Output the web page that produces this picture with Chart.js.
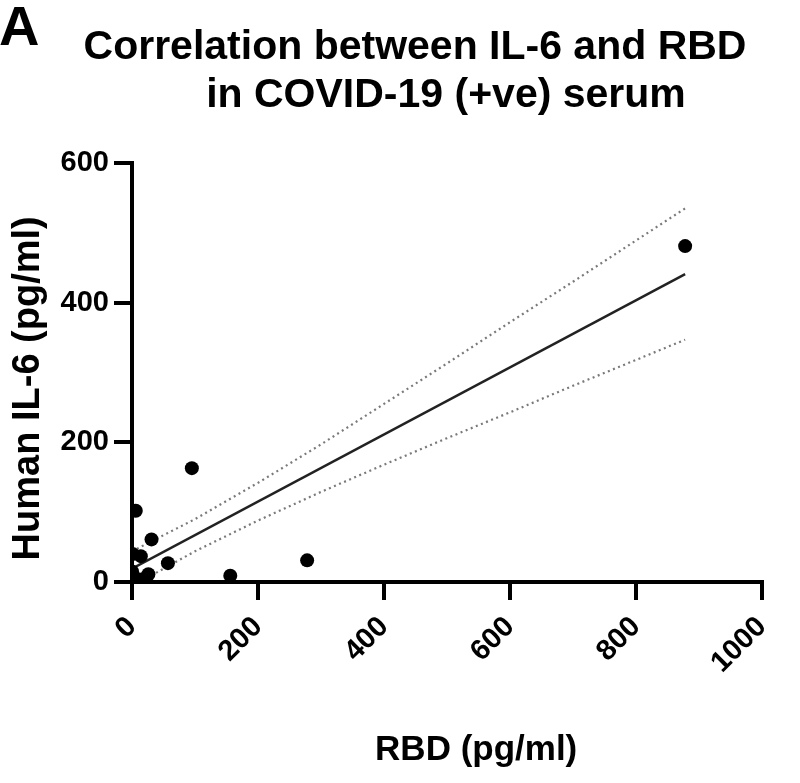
<!DOCTYPE html>
<html>
<head>
<meta charset="utf-8">
<script src="https://cdn.jsdelivr.net/npm/chart.js@4.4.1/dist/chart.umd.min.js"></script>
<style>
  html, body { margin: 0; padding: 0; background: #fff; }
  #wrap { width: 800px; height: 783px; }
</style>
</head>
<body>
<div id="wrap"><canvas id="chart" width="800" height="783"></canvas></div>
<script>
// values
const rbd  = [878, 95, 278, 156, 6, 31, 57, 1, 14, 26, 0, 3, 1, 8, 14, 17];
const il6  = [481, 163, 31, 9, 102, 61, 27, 40, 37, 11, 15, 8, 2, 1, 0, 4];

const fitX = [0, 878];
const fitY = [19, 441];

const bandX     = [0, 100, 200, 300, 400, 500, 600, 700, 800, 878];
const bandUpper = [44, 90, 142, 197, 255, 313, 372, 430, 489, 535];
const bandLower = [-6, 44, 88, 129, 168, 206, 243, 281, 318, 347];

const xTicks = [0, 200, 400, 600, 800, 1000];
const yTicks = [0, 200, 400, 600];

const FONT = "'Liberation Sans', Arial, sans-serif";

const pts = (xs, ys) => xs.map((x, i) => ({ x: x, y: ys[i] }));

// panel letter and the two-line heading
const heading = {
    id: 'heading',
    afterDraw(chart) {
        const ctx = chart.ctx;
        ctx.save();
        ctx.fillStyle = '#000';
        ctx.textBaseline = 'alphabetic';
        ctx.font = `bold 56px ${FONT}`;
        ctx.textAlign = 'left';
        ctx.fillText('A', -1, 45);
        ctx.font = `bold 41px ${FONT}`;
        ctx.textAlign = 'center';
        ctx.fillText('Correlation between IL-6 and RBD', 415, 59);
        ctx.fillText('in COVID-19 (+ve) serum', 446, 107);
        ctx.restore();
    }
};

const lineSet = (xs, ys, dashed) => ({
    data: pts(xs, ys),
    showLine: true,
    pointRadius: 0,
    borderColor: dashed ? '#7a7a7a' : '#222',
    borderWidth: dashed ? 2.2 : 2.5,
    borderDash: dashed ? [2, 3.5] : [],
    fill: false
});

new Chart(document.getElementById('chart').getContext('2d'), {
    type: 'scatter',
    data: {
        datasets: [
            {
                data: pts(rbd, il6),
                pointRadius: 7,
                pointBackgroundColor: '#000',
                pointBorderWidth: 0,
                showLine: false
            },
            lineSet(fitX, fitY, false),
            lineSet(bandX, bandUpper, true),
            lineSet(bandX, bandLower, true)
        ]
    },
    options: {
        responsive: false,
        animation: false,
        events: [],
        layout: { padding: { left: 0, right: 38, top: 163, bottom: 0 } },
        plugins: { legend: { display: false }, tooltip: { enabled: false } },
        scales: {
            x: {
                type: 'linear',
                min: 0,
                max: 1000,
                afterFit: (s) => { s.height = 201; },
                afterBuildTicks: (s) => { s.ticks = xTicks.map(v => ({ value: v })); },
                border: { color: '#000', width: 4 },
                grid: { drawOnChartArea: false, color: '#000', lineWidth: 4, tickLength: 18 },
                ticks: {
                    color: '#000',
                    font: { family: FONT, size: 29, weight: 'bold' },
                    minRotation: 45,
                    maxRotation: 45,
                    padding: 10,
                    callback: (v) => String(v)
                },
                title: {
                    display: true,
                    text: '      RBD (pg/ml)',
                    color: '#000',
                    font: { family: FONT, size: 35, weight: 'bold' },
                    padding: { top: 0, bottom: 12 }
                }
            },
            y: {
                type: 'linear',
                min: 0,
                max: 600,
                afterFit: (s) => { s.width = 132; },
                afterBuildTicks: (s) => { s.ticks = yTicks.map(v => ({ value: v })); },
                border: { color: '#000', width: 4 },
                grid: { drawOnChartArea: false, color: '#000', lineWidth: 4, tickLength: 18 },
                ticks: {
                    color: '#000',
                    font: { family: FONT, size: 29, weight: 'bold' },
                    padding: 5,
                    callback: (v) => String(v)
                },
                title: {
                    display: true,
                    text: 'Human IL-6 (pg/ml)   ',
                    color: '#000',
                    font: { family: FONT, size: 38, weight: 'bold' },
                    padding: { top: 6, bottom: 0 }
                }
            }
        }
    },
    plugins: [heading]
});
</script>
</body>
</html>
